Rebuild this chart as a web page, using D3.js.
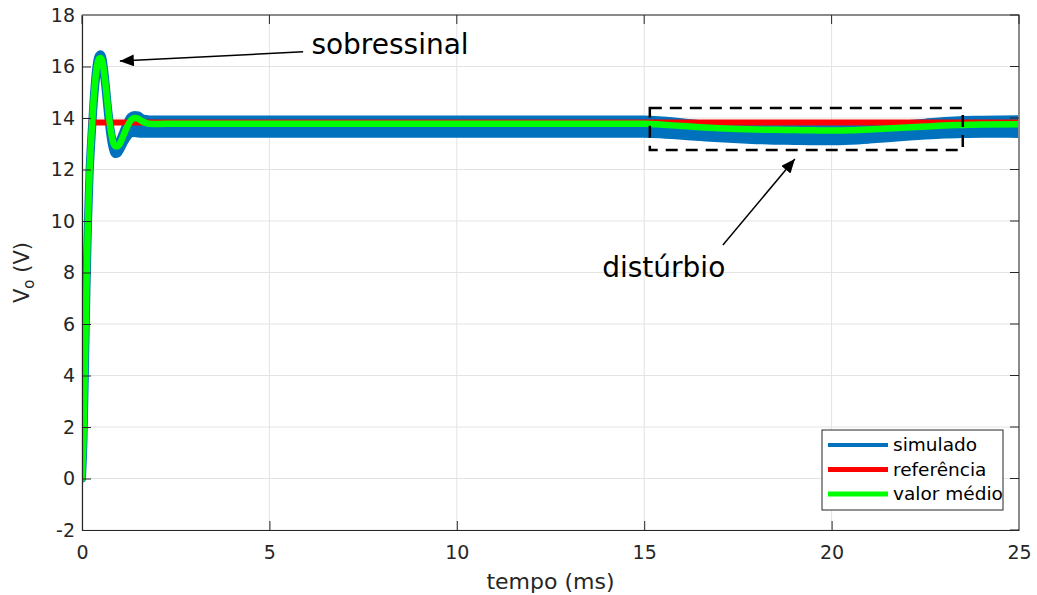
<!DOCTYPE html>
<html>
<head>
<meta charset="utf-8">
<script src="https://cdn.jsdelivr.net/npm/d3@7"></script>
<style>
  html, body { margin: 0; padding: 0; background: #fff; }
  svg { display: block; font-family: "DejaVu Sans", sans-serif; }
</style>
</head>
<body>
<svg id="chart" width="1037" height="595"></svg>
<script>
// Tempo (ms) dos pontos amostrados
const tempo = [0, 0.04, 0.08, 0.12, 0.16, 0.2, 0.25, 0.3, 0.35, 0.4, 0.45, 0.5, 0.55, 0.6, 0.65, 0.7, 0.75, 0.8, 0.85, 0.9, 0.95, 1.0,
  1.1, 1.2, 1.3, 1.4, 1.5, 1.6, 1.7, 1.8, 2.0, 2.5, 3, 4, 5, 6, 8, 10, 12, 14,
  15, 15.5, 16, 16.5, 17, 17.5, 18, 18.5, 19, 19.5, 20, 20.5, 21, 21.5, 22, 22.5, 23, 23.5, 24, 25];

// Valor médio da tensão de saída (V)
const valorMedio = [0, 1.6, 4.6, 7.6, 10.1, 11.9, 13.3, 14.5, 15.4, 16.0, 16.3, 16.33, 16.15, 15.65, 15.0, 14.3, 13.7, 13.25, 12.98, 12.9, 12.9, 12.98,
  13.3, 13.65, 13.9, 14.0, 13.97, 13.88, 13.81, 13.78, 13.77, 13.78, 13.78, 13.78, 13.78, 13.78, 13.78, 13.78, 13.78, 13.78,
  13.78, 13.74, 13.69, 13.64, 13.6, 13.57, 13.55, 13.54, 13.53, 13.52, 13.51, 13.52, 13.55, 13.59, 13.63, 13.67, 13.71, 13.73, 13.75, 13.76];

// Envoltória da tensão simulada (máximo e mínimo da ondulação, V)
const simSup = [0, 1.6, 4.6, 7.6, 10.1, 11.9, 13.3, 14.5, 15.5, 16.15, 16.42, 16.48, 16.3, 15.75, 15.05, 14.3, 13.7, 13.25, 13.0, 12.95, 12.98, 13.1,
  13.45, 13.8, 14.05, 14.12, 14.1, 14.0, 13.96, 13.94, 13.94, 13.94, 13.94, 13.94, 13.94, 13.94, 13.94, 13.94, 13.94, 13.94,
  13.94, 13.9, 13.84, 13.76, 13.7, 13.65, 13.62, 13.6, 13.6, 13.6, 13.6, 13.61, 13.64, 13.7, 13.76, 13.82, 13.88, 13.92, 13.93, 13.95];
const simInf = [0, 1.5, 4.4, 7.4, 9.9, 11.7, 13.1, 14.3, 15.2, 15.85, 16.15, 16.2, 16.0, 15.5, 14.8, 14.05, 13.4, 12.95, 12.68, 12.6, 12.62, 12.72,
  13.0, 13.25, 13.4, 13.42, 13.4, 13.39, 13.39, 13.39, 13.39, 13.39, 13.39, 13.39, 13.39, 13.39, 13.39, 13.39, 13.39, 13.39,
  13.39, 13.36, 13.31, 13.26, 13.21, 13.17, 13.14, 13.12, 13.11, 13.1, 13.1, 13.12, 13.16, 13.21, 13.27, 13.32, 13.36, 13.38, 13.39, 13.38];

// Referência de tensão (V)
const tempoRef = [0.18, 25];
const referencia = [13.83, 13.83];

// Marcas dos eixos
const xTicks = [0, 5, 10, 15, 20, 25];
const yTicks = [-2, 0, 2, 4, 6, 8, 10, 12, 14, 16, 18];

// Anotações (coordenadas nos eixos: tempo em ms, tensão em V)
const setaSobressinal = { de: [5.9, 16.57], para: [1.01, 16.21] };
const textoSobressinal = { t: 6.12, v: 16.47, texto: "sobressinal" };
const setaDisturbio = { de: [17.1, 9.07], para: [19.02, 12.41] };
const textoDisturbio = { t: 13.88, v: 7.84, texto: "distúrbio" };
const caixaDisturbio = { t0: 15.15, t1: 23.5, v0: 12.76, v1: 14.39 };

const legenda = [
  { nome: "simulado", cor: "#0072BD", largura: 4 },
  { nome: "referência", cor: "#FF0000", largura: 5 },
  { nome: "valor médio", cor: "#00FF00", largura: 5 }
];

const svg = d3.select("#chart");
const plot = { left: 82, right: 1019, top: 15, bottom: 530 };
const x = d3.scaleLinear().domain([0, 25]).range([plot.left, plot.right]);
const y = d3.scaleLinear().domain([-2, 18]).range([plot.bottom, plot.top]);
const eixoCor = "#262626";

// Grade
const grade = svg.append("g");
grade.selectAll("line.gx").data(xTicks).join("line")
  .attr("x1", d => x(d)).attr("x2", d => x(d))
  .attr("y1", plot.top).attr("y2", plot.bottom)
  .attr("stroke", "#e3e3e3").attr("stroke-width", 1);
grade.selectAll("line.gy").data(yTicks).join("line")
  .attr("x1", plot.left).attr("x2", plot.right)
  .attr("y1", d => y(d)).attr("y2", d => y(d))
  .attr("stroke", "#e3e3e3").attr("stroke-width", 1);

// Curvas (recortadas à área dos eixos)
svg.append("clipPath").attr("id", "area-eixos")
  .append("rect").attr("x", plot.left).attr("y", plot.top)
  .attr("width", plot.right - plot.left).attr("height", plot.bottom - plot.top);
const curvas = svg.append("g").attr("clip-path", "url(#area-eixos)");

const banda = d3.area()
  .x((d, i) => x(tempo[i]))
  .y0((d, i) => y(simInf[i]))
  .y1((d, i) => y(simSup[i]))
  .curve(d3.curveMonotoneX);
curvas.append("path").datum(tempo)
  .attr("d", banda)
  .attr("fill", "#0072BD").attr("stroke", "#0072BD")
  .attr("stroke-width", 8).attr("stroke-linejoin", "round");

curvas.append("path").datum(tempoRef)
  .attr("d", d3.line().x((d, i) => x(tempoRef[i])).y((d, i) => y(referencia[i])))
  .attr("fill", "none").attr("stroke", "#FF0000").attr("stroke-width", 6);

curvas.append("path").datum(tempo)
  .attr("d", d3.line().x((d, i) => x(tempo[i])).y((d, i) => y(valorMedio[i])).curve(d3.curveMonotoneX))
  .attr("fill", "none").attr("stroke", "#00FF00").attr("stroke-width", 6.5)
  .attr("stroke-linejoin", "round").attr("stroke-linecap", "round");

// Eixos
const rotulo = d => String(d);
const eixoX = svg.append("g").attr("transform", `translate(0,${plot.bottom})`)
  .call(d3.axisBottom(x).tickValues(xTicks).tickFormat(rotulo).tickSizeInner(-9).tickSizeOuter(0).tickPadding(16));
const eixoY = svg.append("g").attr("transform", `translate(${plot.left},0)`)
  .call(d3.axisLeft(y).tickValues(yTicks).tickFormat(rotulo).tickSizeInner(-9).tickSizeOuter(0).tickPadding(7));
[eixoX, eixoY].forEach(g => {
  g.select(".domain").attr("stroke", eixoCor).attr("stroke-width", 1.2);
  g.selectAll(".tick line").attr("stroke", eixoCor);
  g.selectAll(".tick text").attr("fill", eixoCor).attr("font-size", 19)
    .attr("font-family", "DejaVu Sans");
});

// Bordas superior e direita com marcas internas
svg.append("line").attr("x1", plot.left).attr("x2", plot.right + 0.5)
  .attr("y1", plot.top).attr("y2", plot.top).attr("stroke", "#8a8a8a").attr("stroke-width", 2);
svg.append("line").attr("x1", plot.right).attr("x2", plot.right)
  .attr("y1", plot.top).attr("y2", plot.bottom).attr("stroke", "#8a8a8a").attr("stroke-width", 2);
svg.append("g").selectAll("line").data(xTicks).join("line")
  .attr("x1", d => x(d)).attr("x2", d => x(d))
  .attr("y1", plot.top).attr("y2", plot.top + 9).attr("stroke", eixoCor);
svg.append("g").selectAll("line").data(yTicks).join("line")
  .attr("x1", plot.right - 9).attr("x2", plot.right)
  .attr("y1", d => y(d)).attr("y2", d => y(d)).attr("stroke", eixoCor);

// Rótulos dos eixos
svg.append("text").attr("x", (plot.left + plot.right) / 2).attr("y", 589)
  .attr("text-anchor", "middle").attr("font-size", 22).attr("fill", eixoCor)
  .text("tempo (ms)");
const rotY = svg.append("text")
  .attr("transform", `translate(29,${(plot.top + plot.bottom) / 2}) rotate(-90)`)
  .attr("text-anchor", "middle").attr("font-size", 21).attr("fill", eixoCor);
rotY.append("tspan").text("V");
rotY.append("tspan").attr("font-size", 15).attr("dy", 5).text("o");
rotY.append("tspan").attr("dy", -5).text(" (V)");

// Anotações
svg.append("defs").append("marker")
  .attr("id", "ponta").attr("viewBox", "0 0 14 12")
  .attr("refX", 14).attr("refY", 6)
  .attr("markerWidth", 14).attr("markerHeight", 12)
  .attr("markerUnits", "userSpaceOnUse").attr("orient", "auto")
  .append("path").attr("d", "M0,0 L14,6 L0,12 Z").attr("fill", "#000");

[setaSobressinal, setaDisturbio].forEach(s => {
  svg.append("line")
    .attr("x1", x(s.de[0])).attr("y1", y(s.de[1]))
    .attr("x2", x(s.para[0])).attr("y2", y(s.para[1]))
    .attr("stroke", "#000").attr("stroke-width", 1.5)
    .attr("marker-end", "url(#ponta)");
});
[textoSobressinal, textoDisturbio].forEach(a => {
  svg.append("text").attr("x", x(a.t)).attr("y", y(a.v))
    .attr("font-size", 28).attr("fill", "#000").text(a.texto);
});
svg.append("rect")
  .attr("x", x(caixaDisturbio.t0)).attr("y", y(caixaDisturbio.v1))
  .attr("width", x(caixaDisturbio.t1) - x(caixaDisturbio.t0))
  .attr("height", y(caixaDisturbio.v0) - y(caixaDisturbio.v1))
  .attr("fill", "none").attr("stroke", "#000").attr("stroke-width", 2.5)
  .attr("stroke-dasharray", "12,8");

// Legenda
const leg = svg.append("g").attr("transform", "translate(822,430)");
leg.append("rect").attr("width", 181).attr("height", 80)
  .attr("fill", "#fff").attr("stroke", eixoCor).attr("stroke-width", 1);
const item = leg.selectAll("g.item").data(legenda).join("g")
  .attr("transform", (d, i) => `translate(0,${15 + i * 24.5})`);
item.append("line").attr("x1", 6).attr("x2", 66)
  .attr("stroke", d => d.cor).attr("stroke-width", d => d.largura);
item.append("text").attr("x", 71).attr("y", 0).attr("dy", "0.35em")
  .attr("font-size", 18.5).attr("fill", "#000").text(d => d.nome);
</script>
</body>
</html>
